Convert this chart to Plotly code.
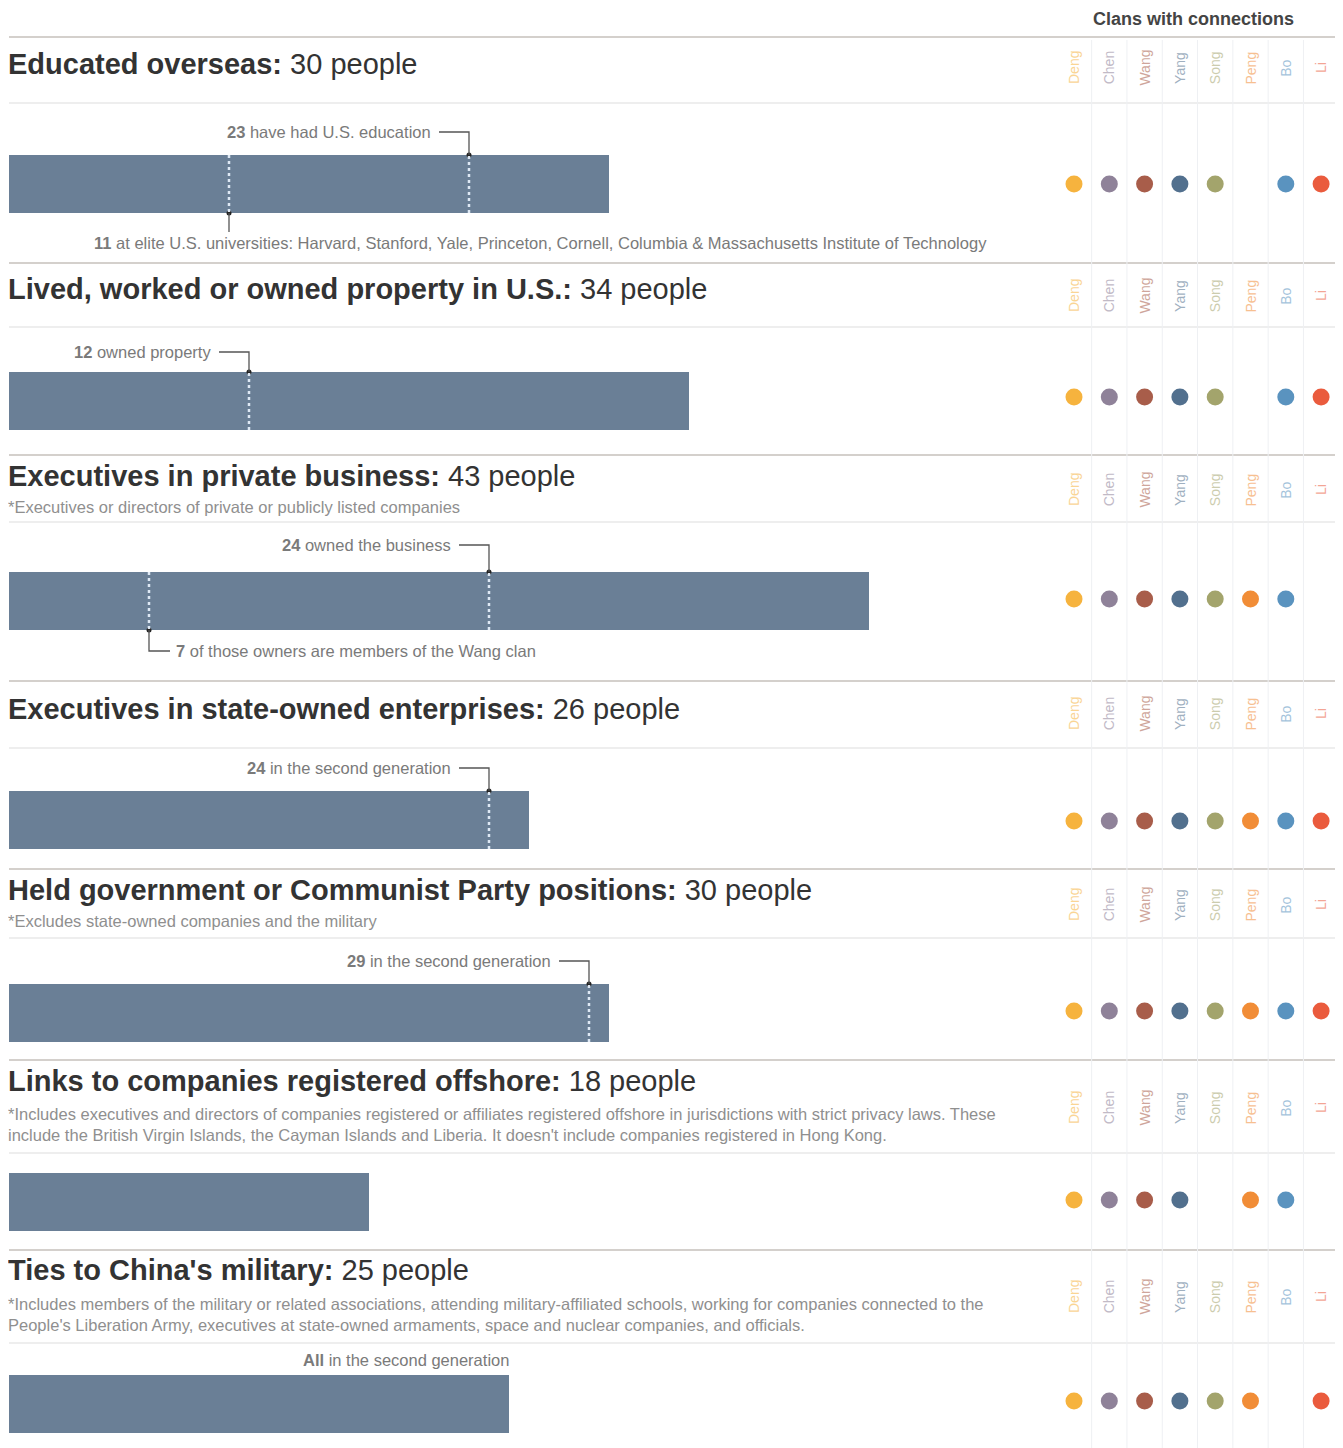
import plotly.graph_objects as go

# ---------------- data ----------------
titles_bold = [
    "Educated overseas:",
    "Lived, worked or owned property in U.S.:",
    "Executives in private business:",
    "Executives in state-owned enterprises:",
    "Held government or Communist Party positions:",
    "Links to companies registered offshore:",
    "Ties to China's military:",
]
totals = [30, 34, 43, 26, 30, 18, 25]
notes = [
    "",
    "",
    "*Executives or directors of private or publicly listed companies",
    "",
    "*Excludes state-owned companies and the military",
    "*Includes executives and directors of companies registered or affiliates registered offshore in jurisdictions with strict privacy laws. These<br>include the British Virgin Islands, the Cayman Islands and Liberia. It doesn't include companies registered in Hong Kong.",
    "*Includes members of the military or related associations, attending military-affiliated schools, working for companies connected to the<br>People's Liberation Army, executives at state-owned armaments, space and nuclear companies, and officials.",
]
clans = ["Deng", "Chen", "Wang", "Yang", "Song", "Peng", "Bo", "Li"]
clan_colors = ["#f6b33e", "#8f8299", "#a85d4a", "#52708e", "#a3a46c", "#f18d37", "#5a93bf", "#ea5b3d"]
# 1 = clan has a connection in this category
presence = [
    [1, 1, 1, 1, 1, 0, 1, 1],
    [1, 1, 1, 1, 1, 0, 1, 1],
    [1, 1, 1, 1, 1, 1, 1, 0],
    [1, 1, 1, 1, 1, 1, 1, 1],
    [1, 1, 1, 1, 1, 1, 1, 1],
    [1, 1, 1, 1, 0, 1, 1, 0],
    [1, 1, 1, 1, 1, 1, 0, 1],
]
# sub-counts marked on bars
above_rows = [0, 1, 2, 3, 4]
above_values = [23, 12, 24, 24, 29]
above_labels = ["have had U.S. education", "owned property", "owned the business",
                "in the second generation", "in the second generation"]
below_rows = [0, 2]
below_values = [11, 7]
below_labels = [
    "at elite U.S. universities: Harvard, Stanford, Yale, Princeton, Cornell, Columbia & Massachusetts Institute of Technology",
    "of those owners are members of the Wang clan",
]
all_row = 6
all_label = "in the second generation"

# ---------------- layout positions (page pixels) ----------------
PAGE_W, PAGE_H = 1343, 1448
OFF = 8                      # default body margin of the page
W, H = PAGE_W - OFF, PAGE_H - OFF
PX = 20.0                    # pixels per person
X0 = 9 - OFF                 # figure pixel of zero
bar_y = [184, 401, 601, 820, 1013, 1202, 1404]
bar_h = 58
dot_y = [184, 397, 599, 821, 1011, 1200, 1401]
title_y = [64, 289, 476, 709, 890, 1081, 1270]
note_y = [None, None, 507, None, 921, 1124, 1314]
clan_label_y = [68, 296, 490, 714, 905, 1108, 1297]
sep_dark = [37, 263, 455, 681, 869, 1060, 1250]
sep_light = [103, 327, 522, 748, 938, 1153, 1343]
above_text_y = [132, 352, 545, 768, 961]
below_text_y = [243, 651]
all_text_y = 1360

FONT = "Liberation Sans, Arial, Helvetica, sans-serif"
BAR_COLOR = "#6a7f96"
LINE_COLOR = "#555555"
ANN_SIZE = 16.5

fig = go.Figure()

# bars
fig.add_trace(go.Bar(
    orientation="h", x=totals, y=bar_y, width=bar_h,
    marker=dict(color=BAR_COLOR, line=dict(width=0)),
    xaxis="x", yaxis="y", hoverinfo="skip", showlegend=False,
))

shapes = []
annotations = []

# separators
for y in sep_dark:
    shapes.append(dict(type="line", xref="paper", yref="y", x0=X0 / W, x1=1, y0=y, y1=y,
                       line=dict(color="#d4d0cc", width=2)))
for y in sep_light:
    shapes.append(dict(type="line", xref="paper", yref="y", x0=X0 / W, x1=1, y0=y, y1=y,
                       line=dict(color="#eeeeee", width=2)))
# clan column separators
for i in range(len(clans) - 1):
    shapes.append(dict(type="line", xref="x2", yref="y", x0=i + 0.5, x1=i + 0.5, y0=40, y1=PAGE_H,
                       line=dict(color="#eef0f3", width=1)))

# titles and notes
for i, t in enumerate(titles_bold):
    annotations.append(dict(
        xref="x", yref="y", x=0, y=title_y[i], xanchor="left", yanchor="middle",
        text=f"<b>{t}</b> {totals[i]} people", showarrow=False, xshift=-3,
        font=dict(family=FONT, size=29, color="#333333"),
    ))
    if notes[i]:
        annotations.append(dict(
            xref="x", yref="y", x=0, y=note_y[i], xanchor="left", yanchor="middle",
            text=notes[i], showarrow=False, xshift=-3, align="left",
            font=dict(family=FONT, size=ANN_SIZE, color="#8f8f8f"),
        ))

# markers above bars
dot_x, dot_yy = [], []
for r, v, lab, ty in zip(above_rows, above_values, above_labels, above_text_y):
    top = bar_y[r] - bar_h / 2
    bot = bar_y[r] + bar_h / 2
    shapes.append(dict(type="line", xref="x", yref="y", x0=v, x1=v, y0=top + 1, y1=bot,
                       line=dict(color="#dfe9f5", width=2.5, dash="dot")))
    shapes.append(dict(type="path", xref="x", yref="y",
                       path=f"M {v - 30 / PX},{ty} L {v},{ty} L {v},{top}",
                       line=dict(color=LINE_COLOR, width=1.3)))
    dot_x.append(v)
    dot_yy.append(top)
    annotations.append(dict(
        xref="x", yref="y", x=v, y=ty, xanchor="right", yanchor="middle", xshift=-36,
        text=f"<b>{v}</b> {lab}", showarrow=False,
        font=dict(family=FONT, size=ANN_SIZE, color="#7a7a7a"),
    ))

# markers below bars
for k, (r, v, lab, ty) in enumerate(zip(below_rows, below_values, below_labels, below_text_y)):
    top = bar_y[r] - bar_h / 2
    bot = bar_y[r] + bar_h / 2
    shapes.append(dict(type="line", xref="x", yref="y", x0=v, x1=v, y0=top, y1=bot - 1,
                       line=dict(color="#dfe9f5", width=2.5, dash="dot")))
    dot_x.append(v)
    dot_yy.append(bot)
    if k == 0:
        shapes.append(dict(type="line", xref="x", yref="y", x0=v, x1=v, y0=bot, y1=ty - 11,
                           line=dict(color=LINE_COLOR, width=1.3)))
        annotations.append(dict(
            xref="x", yref="y", x=v, y=ty, xanchor="left", yanchor="middle", xshift=-137,
            text=f"<b>{v}</b> {lab}", showarrow=False,
            font=dict(family=FONT, size=ANN_SIZE, color="#7a7a7a"),
        ))
    else:
        shapes.append(dict(type="path", xref="x", yref="y",
                           path=f"M {v},{bot} L {v},{ty} L {v + 21 / PX},{ty}",
                           line=dict(color=LINE_COLOR, width=1.3)))
        annotations.append(dict(
            xref="x", yref="y", x=v, y=ty, xanchor="left", yanchor="middle", xshift=25,
            text=f"<b>{v}</b> {lab}", showarrow=False,
            font=dict(family=FONT, size=ANN_SIZE, color="#7a7a7a"),
        ))

# "All" annotation
annotations.append(dict(
    xref="x", yref="y", x=totals[all_row], y=all_text_y, xanchor="right", yanchor="middle",
    text=f"<b>All</b> {all_label}", showarrow=False, xshift=2,
    font=dict(family=FONT, size=ANN_SIZE, color="#7a7a7a"),
))

# leader dots
fig.add_trace(go.Scatter(
    x=dot_x, y=dot_yy, mode="markers", xaxis="x", yaxis="y",
    marker=dict(color="#222222", size=5), hoverinfo="skip", showlegend=False,
))

# clan dots and labels
for c, (name, col) in enumerate(zip(clans, clan_colors)):
    ys = [dot_y[r] for r in range(len(presence)) if presence[r][c]]
    fig.add_trace(go.Scatter(
        x=[name] * len(ys), y=ys, mode="markers", xaxis="x2", yaxis="y",
        marker=dict(color=col, size=17, line=dict(width=0)),
        hoverinfo="skip", showlegend=False,
    ))
    for r in range(len(presence)):
        annotations.append(dict(
            xref="x2", yref="y", x=name, y=clan_label_y[r], text=name, textangle=-90,
            showarrow=False, xanchor="center", yanchor="middle", opacity=0.55,
            font=dict(family=FONT, size=14, color=col),
        ))

# header
annotations.append(dict(
    xref="x2", yref="y", x=3.5, y=19, text="<b>Clans with connections</b>",
    showarrow=False, xanchor="center", yanchor="middle", xshift=-4,
    font=dict(family=FONT, size=18, color="#444444"),
))

fig.update_layout(
    width=W, height=H, autosize=False,
    margin=dict(l=0, r=0, t=0, b=0, pad=0),
    paper_bgcolor="white", plot_bgcolor="white",
    xaxis=dict(domain=[0, 1], range=[-X0 / PX, (W - X0) / PX], visible=False, fixedrange=True),
    xaxis2=dict(domain=[(1056.35 - OFF) / W, (1338.75 - OFF) / W], range=[-0.5, 7.5], type="category",
                categoryorder="array", categoryarray=clans, anchor="y", visible=False),
    yaxis=dict(domain=[0, 1], range=[PAGE_H, OFF], visible=False, fixedrange=True),
    shapes=shapes, annotations=annotations, bargap=0,
)

fig.write_html("out.html")
